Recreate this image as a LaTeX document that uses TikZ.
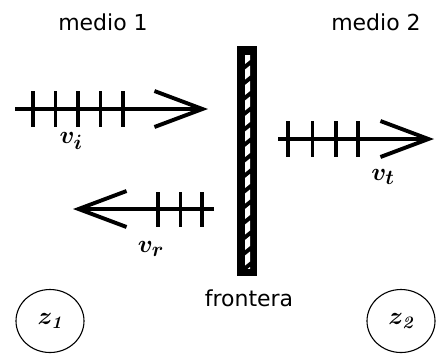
\documentclass[tikz,border=0pt]{standalone}
\usepackage{amsmath,bm}
\usepackage{fontspec}
\setsansfont{DejaVu Sans}
\usetikzlibrary{arrows.meta,positioning,shapes.geometric}

\begin{document}
\begin{tikzpicture}[x=1pt, y=-1pt,
    vec/.style={line width=3.9pt, -{Straight Barb[length=48pt, width=36pt, line width=3.9pt]}},
    raya/.style={line width=3.9pt},
    lbl/.style={font=\fontsize{32}{36}\selectfont, inner sep=0pt},
    medio/.style={font=\sffamily\fontsize{22}{26}\selectfont, inner sep=0pt, anchor=base},
    zona/.style={draw, ellipse, line width=1.1pt, minimum width=68pt, minimum height=63pt,
                 inner sep=0pt, font=\fontsize{25}{29}\selectfont}
]
    \useasboundingbox (0,0) rectangle (436,354);

    % titles
    \node[medio] (m1) at (103,30) {medio 1};
    \node[medio] (m2) at (376,30) {medio 2};

    % boundary
    \node[fill=black, minimum width=20pt, minimum height=230pt, inner sep=0pt] (barrera) at (247,161) {};
    \begin{scope}
        \clip (245,55) rectangle (250,268);
        \foreach \y in {50,65.5,...,270}
            \fill[white] (245,\y+14) -- (245,\y+4) -- (250,\y) -- (250,\y+10) -- cycle;
    \end{scope}
    \node[medio] (front) at (249,306) {frontera};

    % incident wave
    \coordinate (vi0) at (15,109);
    \coordinate (vi1) at (208,109);
    \draw[vec] (vi0) -- (vi1);
    \foreach \x in {33,55.5,78,100.5,123}
        \draw[raya] (\x,91) -- (\x,127);
    \node[lbl] (vi) at (71,141) {$\bm{v}_{\bm{i}}$};

    % reflected wave
    \coordinate (vr0) at (214,209);
    \coordinate (vr1) at (73,209);
    \draw[vec] (vr0) -- (vr1);
    \foreach \x in {158,180.5,202}
        \draw[raya] (\x,192) -- (\x,227);
    \node[lbl] (vr) at (151,249) {$\bm{v}_{\bm{r}}$};

    % transmitted wave
    \coordinate (vt0) at (278,139);
    \coordinate (vt1) at (434,139);
    \draw[vec] (vt0) -- (vt1);
    \foreach \x in {288,312.5,336,358}
        \draw[raya] (\x,121) -- (\x,157);
    \node[lbl] (vt) at (383,177) {$\bm{v}_{\bm{t}}$};

    % media
    \node[zona] (z1) at (50,321) {$\bm{z}_{\textbf{\textit{1}}}$};
    \node[zona] (z2) at (401,321) {$\bm{z}_{\textbf{\textit{2}}}$};
\end{tikzpicture}
\end{document}
